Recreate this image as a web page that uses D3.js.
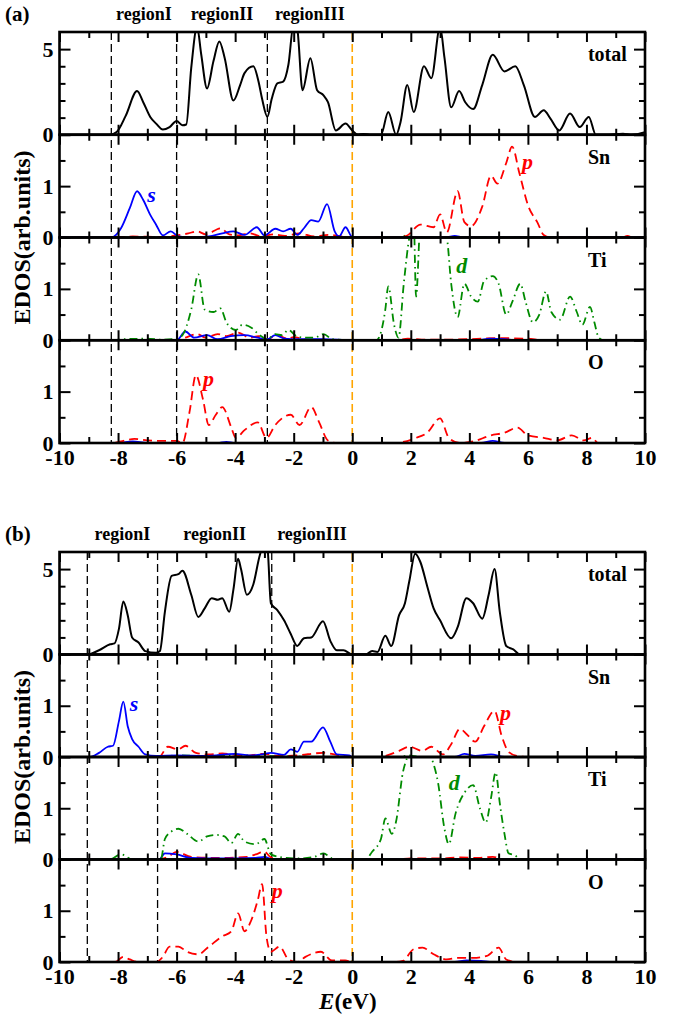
<!DOCTYPE html>
<html>
<head>
<meta charset="utf-8">
<script src="https://cdn.jsdelivr.net/npm/d3@7"></script>
<style>
  body { margin: 0; background: #fff; }
  svg text { font-family: "Liberation Serif", "Times New Roman", serif; font-weight: bold; }
</style>
</head>
<body>
<div id="chart"></div>
<script>
// ---- data: [E (eV), EDOS] ----
const regionNames = ["regionI", "regionII", "regionIII"];
const regionsA = [-8.23, -6.0, -2.9];
const regionsB = [-9.05, -6.65, -2.75];
const panelNames = ["total", "Sn", "Ti", "O"];
const xTicks = [-10, -8, -6, -4, -2, 0, 2, 4, 6, 8, 10];

const totalA = [[-10,0],[-8.3,0],[-8.05,0.16],[-7.74,1.1],[-7.35,2.55],[-7.14,1.9],[-6.9,1.04],[-6.7,0.65],[-6.47,0.3],[-6.24,0.45],[-6.0,0.8],[-5.8,0.55],[-5.67,0.6],[-5.5,3.9],[-5.3,6.3],[-5.16,4.7],[-4.96,2.7],[-4.74,4.3],[-4.54,5.45],[-4.36,4.5],[-4.06,2.0],[-3.83,2.9],[-3.68,3.6],[-3.38,4.0],[-3.2,3.1],[-3.08,2.1],[-2.9,1.05],[-2.75,2.1],[-2.56,3.0],[-2.36,3.1],[-2.18,4.1],[-2.0,6.5],[-1.88,6.2],[-1.7,2.6],[-1.43,4.47],[-1.2,2.6],[-0.98,2.3],[-0.83,1.9],[-0.56,0.25],[-0.23,0.65],[0,0.25],[0.2,0],[0.38,0.05],[0.6,0],[0.98,0],[1.23,1.33],[1.5,0],[1.65,0.75],[1.88,2.9],[2.1,1.33],[2.45,4.0],[2.7,3.3],[3.0,6.3],[3.15,4.5],[3.38,1.6],[3.65,2.55],[3.86,1.9],[4.13,1.5],[4.44,2.9],[4.8,4.67],[5.2,3.7],[5.57,4.0],[5.86,2.9],[6.24,1.04],[6.54,1.43],[6.77,0.94],[7.07,0.25],[7.44,1.24],[7.77,0.45],[8.08,1.04],[8.32,0],[8.65,0],[9.25,0.06],[9.55,0],[10,0.15]];
const snSA = [[-10,0],[-8.23,0],[-7.9,0.18],[-7.6,0.57],[-7.35,0.9],[-7.14,0.73],[-6.9,0.44],[-6.7,0.25],[-6.47,0.04],[-6.2,0.12],[-5.94,0.02],[-5.5,0],[-4.9,0.02],[-4.44,0.08],[-4.06,0.12],[-3.68,0.05],[-3.26,0.2],[-3.0,0.04],[-2.63,0.17],[-2.36,0.12],[-2.1,0.17],[-1.88,0.05],[-1.65,0.18],[-1.4,0.34],[-1.16,0.31],[-0.86,0.65],[-0.6,0.12],[-0.45,0.02],[-0.23,0.2],[0,0.01],[0.5,0],[3.2,0],[3.5,0.03],[3.8,0],[10,0]];
const snPA = [[-10,0],[-8.2,0],[-7.5,0.02],[-6.5,0.01],[-6.0,0.04],[-5.6,0.08],[-5.3,0.12],[-5.0,0.06],[-4.5,0.18],[-4.2,0.06],[-3.9,0.04],[-3.5,0.08],[-3.1,0.02],[-2.7,0.06],[-2.3,0.03],[-1.8,0.08],[-1.3,0.02],[-0.8,0.05],[0,0],[1.6,0],[1.88,0.04],[2.33,0.25],[2.78,0.2],[3.0,0.45],[3.23,0.1],[3.6,0.9],[3.83,0.3],[4.06,0.22],[4.44,0.6],[4.74,1.2],[4.96,1.05],[5.26,1.45],[5.46,1.77],[5.71,1.25],[6.02,0.6],[6.32,0.3],[6.54,0.05],[6.8,0],[9.2,0],[9.4,0.03],[9.6,0],[10,0]];
const snDA = [[-10,0],[1.6,0],[1.85,0.04],[2.1,0],[10,0]];
const tiSA = [[-10,0],[-6.0,0],[-5.7,0.17],[-5.4,0.05],[-4.96,0.1],[-4.6,0.02],[-4.15,0.08],[-3.68,0.1],[-3.23,0.05],[-2.9,0.02],[-2.63,0.1],[-2.3,0.03],[-1.9,0.02],[-1.0,0.02],[0,0],[4.3,0],[4.7,0.03],[5.2,0.02],[5.6,0],[10,0]];
const tiPA = [[-10,0],[-6.0,0],[-5.7,0.05],[-5.3,0.12],[-5.0,0.05],[-4.6,0.12],[-4.3,0.08],[-3.9,0.15],[-3.5,0.05],[-3.2,0.08],[-2.9,0.02],[-2.6,0.1],[-2.2,0.03],[-2.0,0.06],[-1.5,0.01],[0,0],[1.5,0],[1.9,0.03],[2.5,0.01],[4.0,0.02],[5.0,0.04],[6.0,0.03],[6.5,0],[10,0]];
const tiDA = [[-10,0],[-8.2,0],[-7.8,0.02],[-7.0,0.03],[-6.5,0.01],[-6.0,0.03],[-5.8,0.1],[-5.5,0.6],[-5.26,1.28],[-5.04,0.6],[-4.74,0.55],[-4.5,0.62],[-4.3,0.35],[-3.98,0.2],[-3.76,0.3],[-3.46,0.25],[-3.16,0.1],[-2.9,0.02],[-2.63,0.12],[-2.4,0.1],[-2.18,0.2],[-1.88,0.07],[-1.58,0.05],[-1.3,0.05],[-0.98,0.12],[-0.68,0.02],[0,0],[0.83,0],[1.13,0.6],[1.23,1.05],[1.43,0.3],[1.58,0.05],[1.76,1.1],[1.95,2.0],[2.1,2.3],[2.18,0.85],[2.33,2.3],[2.56,2.5],[2.93,2.4],[3.23,2.0],[3.38,1.1],[3.6,0.45],[3.83,1.1],[4.06,0.85],[4.29,0.75],[4.5,1.15],[4.8,1.25],[5.0,1.1],[5.26,0.5],[5.47,0.75],[5.74,1.1],[5.92,0.75],[6.17,0.35],[6.39,0.5],[6.62,0.95],[6.8,0.55],[7.1,0.4],[7.44,0.85],[7.67,0.55],[7.86,0.3],[8.12,0.65],[8.27,0.35],[8.42,0.05],[8.6,0],[10,0]];
const oSA = [[-10,0],[-8,0],[-7.5,0.03],[-7.0,0],[-4.6,0],[-4.3,0.02],[-4.0,0],[4.4,0],[4.8,0.04],[5.2,0],[10,0]];
const oPA = [[-10,0],[-8.2,0],[-7.9,0.03],[-7.44,0.08],[-7.0,0.05],[-6.4,0.04],[-6.0,0.04],[-5.8,0],[-5.56,0.6],[-5.34,1.32],[-5.1,0.85],[-4.9,0.35],[-4.66,0.55],[-4.44,0.7],[-4.13,0.3],[-3.98,0.1],[-3.68,0.25],[-3.23,0.4],[-2.93,0.1],[-2.63,0.35],[-2.1,0.55],[-1.8,0.35],[-1.4,0.7],[-1.13,0.4],[-0.83,0.05],[-0.53,0],[1.5,0],[1.73,0.02],[2.18,0.1],[2.56,0.2],[3.0,0.48],[3.3,0.1],[3.68,0],[4.13,0.03],[4.74,0.15],[5.2,0.2],[5.64,0.3],[6.0,0.15],[6.54,0.1],[7.0,0.05],[7.5,0.15],[7.9,0.05],[8.2,0.1],[8.4,0],[10,0]];

const totalB = [[-10,0],[-9.05,0],[-8.65,0.25],[-8.27,0.6],[-8.12,0.65],[-7.97,1.5],[-7.82,3.1],[-7.67,2.3],[-7.52,1.0],[-7.3,0.7],[-7.07,0.2],[-6.7,0.1],[-6.57,0.2],[-6.4,2.5],[-6.17,4.6],[-5.94,4.7],[-5.8,4.9],[-5.5,3.5],[-5.26,2.2],[-5.04,2.7],[-4.8,3.3],[-4.59,3.2],[-4.44,3.3],[-4.2,2.5],[-4.06,3.8],[-3.9,5.6],[-3.8,5.0],[-3.6,3.5],[-3.38,4.1],[-3.16,5.8],[-3.0,6.5],[-2.9,6.3],[-2.78,3.0],[-2.56,2.6],[-2.33,2.0],[-2.1,1.2],[-1.88,0.5],[-1.65,0.95],[-1.4,1.0],[-1.0,1.95],[-0.75,0.8],[-0.53,0.25],[-0.3,0.25],[0,0],[0.45,0],[0.68,0.2],[0.86,0.15],[1.13,1.1],[1.33,0.5],[1.6,2.3],[1.8,3.0],[1.95,4.3],[2.15,5.9],[2.33,5.4],[2.56,4.0],[2.78,2.7],[3.0,2.0],[3.38,0.95],[3.6,1.6],[3.9,3.3],[4.13,3.0],[4.44,2.1],[4.66,3.5],[4.86,5.0],[5.04,2.5],[5.26,0.5],[5.5,0.3],[5.74,0],[10,0]];
const snSB = [[-10,0],[-8.95,0],[-8.65,0.08],[-8.35,0.2],[-8.17,0.22],[-7.97,0.7],[-7.82,1.08],[-7.67,0.6],[-7.52,0.35],[-7.3,0.2],[-7.07,0.05],[-6.7,0.02],[-6.0,0.03],[-5.0,0.02],[-4.0,0.06],[-3.5,0.03],[-3.08,0.05],[-2.78,0.08],[-2.33,0.04],[-2.1,0.15],[-1.88,0.1],[-1.65,0.3],[-1.4,0.3],[-1.0,0.58],[-0.75,0.3],[-0.53,0.05],[-0.1,0.03],[0,0],[3.5,0],[3.83,0.06],[4.2,0.02],[4.74,0.05],[5.2,0],[10,0]];
const snPB = [[-10,0],[-6.6,0],[-6.3,0.2],[-5.94,0.15],[-5.7,0.22],[-5.34,0.08],[-4.9,0.05],[-4.44,0.07],[-3.68,0.02],[-3.08,0.06],[-2.5,0.02],[-1.9,0.03],[-1.0,0.08],[-0.4,0.03],[0,0],[1.0,0],[1.13,0.02],[1.6,0.12],[1.95,0.2],[2.4,0.12],[2.7,0.2],[3.1,0.05],[3.38,0.25],[3.68,0.55],[3.9,0.45],[4.2,0.3],[4.5,0.6],[4.86,0.9],[5.11,0.4],[5.34,0.1],[5.64,0.02],[6.0,0],[10,0]];
const snDB = [[-10,0],[-6.6,0],[-6.0,0.03],[-5.0,0.02],[-4.0,0.04],[-3.0,0.02],[0,0],[1.6,0],[1.9,0.03],[2.3,0],[10,0]];
const tiSB = [[-10,0],[-6.6,0],[-6.4,0.12],[-6.0,0.1],[-5.5,0.03],[-4.5,0.02],[-3.3,0.03],[-3.0,0.05],[-2.7,0],[10,0]];
const tiPB = [[-10,0],[-6.6,0],[-6.3,0.05],[-6.0,0.15],[-5.5,0.05],[-4.5,0.03],[-3.6,0.05],[-3.3,0.1],[-3.0,0.15],[-2.8,0.05],[-2.5,0],[1.5,0],[2.0,0.02],[3.0,0.02],[3.7,0.04],[4.3,0.03],[4.8,0.05],[5.2,0],[10,0]];
const tiDB = [[-10,0],[-8.3,0],[-7.9,0.1],[-7.5,0],[-6.54,0],[-6.4,0.4],[-6.17,0.55],[-5.94,0.6],[-5.64,0.5],[-5.26,0.35],[-4.96,0.45],[-4.66,0.48],[-4.36,0.45],[-4.13,0.32],[-3.9,0.5],[-3.68,0.35],[-3.3,0.3],[-3.0,0.4],[-2.78,0.1],[-2.48,0.05],[-1.88,0.02],[-1.3,0.05],[-0.98,0.12],[-0.68,0.02],[0,0],[0.45,0],[0.68,0.15],[0.98,0.4],[1.13,0.8],[1.35,0.5],[1.5,0.75],[1.73,1.7],[1.88,2.0],[2.1,2.3],[2.5,2.3],[2.7,2.0],[2.93,1.5],[3.15,0.6],[3.3,0.3],[3.53,0.9],[3.83,1.3],[4.13,1.45],[4.36,1.0],[4.56,0.72],[4.74,1.2],[4.9,1.7],[5.04,1.1],[5.2,0.5],[5.34,0.12],[5.56,0.08],[5.75,0],[10,0]];
const oSB = [[-10,0],[3.5,0],[3.9,0.03],[4.4,0.02],[4.8,0],[10,0]];
const oPB = [[-10,0],[-8.1,0],[-7.82,0.1],[-7.6,0.05],[-7.3,0],[-6.7,0],[-6.47,0.1],[-6.24,0.3],[-5.94,0.3],[-5.64,0.2],[-5.26,0.15],[-4.9,0.3],[-4.44,0.5],[-4.13,0.6],[-3.9,0.95],[-3.68,0.6],[-3.46,0.8],[-3.23,1.2],[-3.08,1.52],[-2.93,0.5],[-2.78,0.2],[-2.48,0.3],[-2.18,0.05],[-1.88,0],[-1.6,0.1],[-1.07,0.2],[-0.7,0.03],[-0.24,0.03],[0,0],[1.5,0],[1.73,0.02],[2.1,0.25],[2.4,0.28],[2.78,0.15],[3.23,0.05],[3.6,0.08],[4.13,0.08],[4.6,0.12],[5.0,0.28],[5.26,0.05],[5.6,0],[10,0]];

// orbital annotations: [panel index, letter, E, value]
const notesA = [[1, "s", -7.0, 0.7], [1, "p", 5.8, 1.33], [2, "d", 3.55, 1.3], [3, "p", -5.1, 1.1]];
const notesB = [[1, "s", -7.6, 0.9], [1, "p", 5.05, 0.72], [2, "d", 3.3, 1.35], [3, "p", -2.75, 1.25]];

const W = 683, H = 1017;
const serif = '"Liberation Serif", "Times New Roman", serif';
const colors = { s: "#0000ff", p: "#ff0000", d: "#008b00", total: "#000000" };
const dashes = { s: null, p: "9,5", d: "8,4,1.5,4", total: null };

const svg = d3.select("#chart").append("svg")
  .attr("width", W)
  .attr("height", H);

const x = d3.scaleLinear().domain([-10, 10]).range([59.5, 645]);

let clipId = 0;

function drawFigure(tag, top, panelH, regions, series, notes) {
  const bottom = top + panelH * 4;
  const g = svg.append("g");

  // panel tag (a)/(b)
  g.append("text")
    .attr("x", 5)
    .attr("y", top - 11)
    .style("font-size", "21px")
    .text(tag);

  // region names between the dashed lines
  const bounds = regions.concat([0]);
  regionNames.forEach((name, i) => {
    g.append("text")
      .attr("x", x((bounds[i] + bounds[i + 1]) / 2))
      .attr("y", top - 12)
      .attr("text-anchor", "middle")
      .style("font-size", "18px")
      .text(name);
  });

  // Y label
  g.append("text")
    .attr("transform", `translate(30,${(top + bottom) / 2}) rotate(-90)`)
    .attr("text-anchor", "middle")
    .style("font-size", "24px")
    .text("EDOS(arb.units)");

  // vertical region lines and the Fermi level
  regions.forEach(e => {
    g.append("line")
      .attr("x1", x(e)).attr("x2", x(e))
      .attr("y1", top).attr("y2", bottom)
      .attr("stroke", "#000")
      .attr("stroke-width", 1.3)
      .attr("stroke-dasharray", "8,4");
  });
  g.append("line")
    .attr("x1", x(0)).attr("x2", x(0))
    .attr("y1", top).attr("y2", bottom)
    .attr("stroke", "#ffa500")
    .attr("stroke-width", 1.6)
    .attr("stroke-dasharray", "8,4");

  panelNames.forEach((name, i) => {
    const py = top + i * panelH;
    const isTotal = i === 0;
    const yMax = isTotal ? 6 : 2;
    const y = d3.scaleLinear().domain([0, yMax]).range([py + panelH, py]);
    const majorY = isTotal ? [0, 5] : [0, 1];
    const minorY = isTotal ? [1, 2, 3, 4] : [0.5, 1.5];

    const id = "clip" + (clipId++);
    g.append("clipPath").attr("id", id)
      .append("rect")
      .attr("x", x(-10)).attr("y", py)
      .attr("width", x(10) - x(-10)).attr("height", panelH);

    const line = d3.line()
      .x(d => x(d[0]))
      .y(d => y(d[1]))
      .curve(d3.curveMonotoneX);

    series[i].forEach(s => {
      g.append("path")
        .datum(s.data)
        .attr("clip-path", `url(#${id})`)
        .attr("fill", "none")
        .attr("stroke", colors[s.kind])
        .attr("stroke-width", s.kind === "total" ? 2 : 1.8)
        .attr("stroke-dasharray", dashes[s.kind])
        .attr("d", line);
    });

    // axes, ticks pointing inward
    const addAxis = (axis, transform, size, values, labels, pad) => {
      const a = g.append("g")
        .attr("transform", transform)
        .call(axis.tickValues(values).tickSize(size).tickPadding(pad || 6)
          .tickFormat(labels ? d => d : () => ""));
      a.select(".domain").remove();
      a.selectAll("line").attr("stroke-width", 2);
      a.selectAll("text")
        .style("font-family", serif)
        .style("font-weight", "bold")
        .style("font-size", "22px");
      return a;
    };
    const minorX = d3.range(-9, 10, 2);
    const last = i === 3;
    addAxis(d3.axisBottom(x), `translate(0,${py + panelH})`, -10, xTicks, last, 6);
    addAxis(d3.axisBottom(x), `translate(0,${py + panelH})`, -6, minorX, false);
    addAxis(d3.axisTop(x), `translate(0,${py})`, -10, xTicks, false);
    addAxis(d3.axisTop(x), `translate(0,${py})`, -6, minorX, false);
    addAxis(d3.axisLeft(y), `translate(${x(-10)},0)`, -11, majorY, true, 6);
    addAxis(d3.axisLeft(y), `translate(${x(-10)},0)`, -6, minorY, false);
    addAxis(d3.axisRight(y), `translate(${x(10)},0)`, -11, majorY, false);
    addAxis(d3.axisRight(y), `translate(${x(10)},0)`, -6, minorY, false);

    // frame
    g.append("rect")
      .attr("x", x(-10)).attr("y", py)
      .attr("width", x(10) - x(-10)).attr("height", panelH)
      .attr("fill", "none")
      .attr("stroke", "#000")
      .attr("stroke-width", 2.6);

    // panel name
    g.append("text")
      .attr("x", x(8.05))
      .attr("y", py + 29)
      .style("font-size", "20px")
      .text(name);

    notes.filter(n => n[0] === i).forEach(n => {
      g.append("text")
        .attr("x", x(n[2]))
        .attr("y", y(n[3]))
        .attr("fill", colors[n[1]])
        .style("font-size", "22px")
        .style("font-style", "italic")
        .text(n[1]);
    });
  });
}

drawFigure("(a)", 32, 102.75, regionsA, [
  [{ kind: "total", data: totalA }],
  [{ kind: "d", data: snDA }, { kind: "p", data: snPA }, { kind: "s", data: snSA }],
  [{ kind: "p", data: tiPA }, { kind: "s", data: tiSA }, { kind: "d", data: tiDA }],
  [{ kind: "s", data: oSA }, { kind: "p", data: oPA }]
], notesA);

drawFigure("(b)", 552, 102.5, regionsB, [
  [{ kind: "total", data: totalB }],
  [{ kind: "d", data: snDB }, { kind: "p", data: snPB }, { kind: "s", data: snSB }],
  [{ kind: "p", data: tiPB }, { kind: "s", data: tiSB }, { kind: "d", data: tiDB }],
  [{ kind: "s", data: oSB }, { kind: "p", data: oPB }]
], notesB);

// X label
const xt = svg.append("text")
  .attr("x", x(-0.15))
  .attr("y", 1009)
  .attr("text-anchor", "middle")
  .style("font-size", "23px");
xt.append("tspan").style("font-style", "italic").text("E");
xt.append("tspan").text("(eV)");
</script>
</body>
</html>
